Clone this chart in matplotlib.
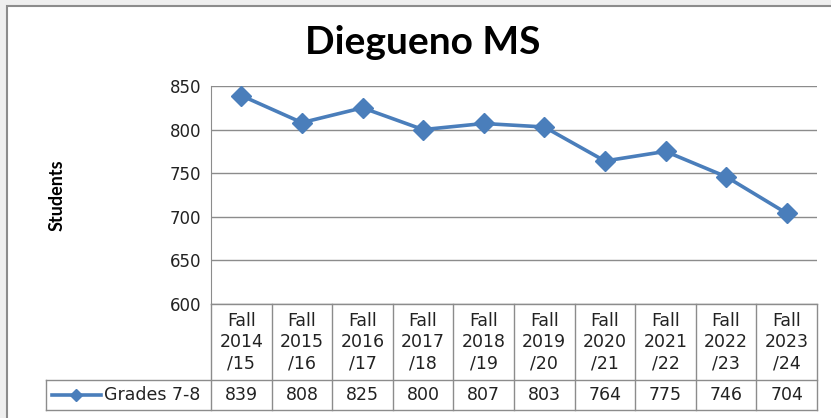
import matplotlib.pyplot as plt
from matplotlib.patches import Rectangle

# data
seasons = ["Fall\n2014\n/15", "Fall\n2015\n/16", "Fall\n2016\n/17", "Fall\n2017\n/18",
           "Fall\n2018\n/19", "Fall\n2019\n/20", "Fall\n2020\n/21", "Fall\n2021\n/22",
           "Fall\n2022\n/23", "Fall\n2023\n/24"]
students = [839, 808, 825, 800, 807, 803, 764, 775, 746, 704]
series_name = "Grades 7-8"
title = "Dieguen" + "o MS"
y_ticks = [600, 650, 700, 750, 800, 850]

W, H = 831, 418
blue = "#4a7ebb"
grid = "#8c8c8c"

fig = plt.figure(figsize=(W / 100, H / 100), dpi=100)
fig.patch.set_facecolor("#efefef")
fig.patches.append(Rectangle((7 / W, -0.1), 1.0, (H - 6) / H + 0.1, transform=fig.transFigure,
                             facecolor="white", edgecolor="#8c8c8c", linewidth=1.5, zorder=-10))


def frac(left, top, right, bottom):
    return [left / W, 1 - bottom / H, (right - left) / W, (bottom - top) / H]


# line chart
ax = fig.add_axes(frac(211, 86, 817, 304))
ax.patch.set_alpha(0)
x = list(range(len(students)))
ax.plot(x, students, color=blue, linewidth=2.6, marker="D", markersize=10, zorder=3, clip_on=False)
ax.set_xlim(-0.5, len(students) - 0.5)
ax.set_ylim(600, 850)
ax.set_yticks(y_ticks)
ax.set_xticks([])
ax.yaxis.grid(True, color=grid, linewidth=1)
ax.set_axisbelow(True)
ax.tick_params(axis="y", length=0, pad=7, labelsize=12, labelcolor="#222222")
for s in ["top", "right", "bottom"]:
    ax.spines[s].set_visible(False)
ax.spines["left"].set_color(grid)
ax.set_ylabel("Students", fontfamily="Lato", fontweight="bold", fontsize=13, labelpad=75)

fig.text(423 / W, 1 - 43 / H, title, ha="center", va="center",
         fontfamily="Lato", fontweight="bold", fontsize=28)

# data table under the chart
n = len(students)
legend_w = (211 - 46) / ((817 - 211) / n)
tb = fig.add_axes(frac(46, 304, 817, 410))
tb.set_xlim(-0.5 - legend_w, n - 0.5)
tb.set_ylim(106, 0)
tb.axis("off")
for i in range(n + 1):
    tb.plot([i - 0.5, i - 0.5], [0, 106], color=grid, linewidth=1, clip_on=False)
tb.plot([-0.5, n - 0.5], [0, 0], color=grid, linewidth=1, clip_on=False)
tb.plot([-0.5 - legend_w, n - 0.5], [76, 76], color=grid, linewidth=1, clip_on=False)
tb.plot([-0.5 - legend_w, n - 0.5], [106, 106], color=grid, linewidth=1, clip_on=False)
tb.plot([-0.5 - legend_w, -0.5 - legend_w], [76, 106], color=grid, linewidth=1, clip_on=False)
for i, (lab, v) in enumerate(zip(seasons, students)):
    tb.text(i, 38, lab, ha="center", va="center", fontsize=12.5, linespacing=1.25, color="#222222")
    tb.text(i, 91.5, str(v), ha="center", va="center", fontsize=12.5, color="#222222")
lx0 = -0.5 - legend_w + 0.1
tb.plot([lx0, lx0 + 0.8], [91, 91], color=blue, linewidth=2.6, clip_on=False)
tb.plot([lx0 + 0.4], [91], color=blue, marker="D", markersize=6.5, clip_on=False)
tb.text(lx0 + 0.85, 91.5, series_name, ha="left", va="center", fontsize=12.5, color="#222222")

fig.savefig("out.png", dpi=100, facecolor=fig.get_facecolor())
